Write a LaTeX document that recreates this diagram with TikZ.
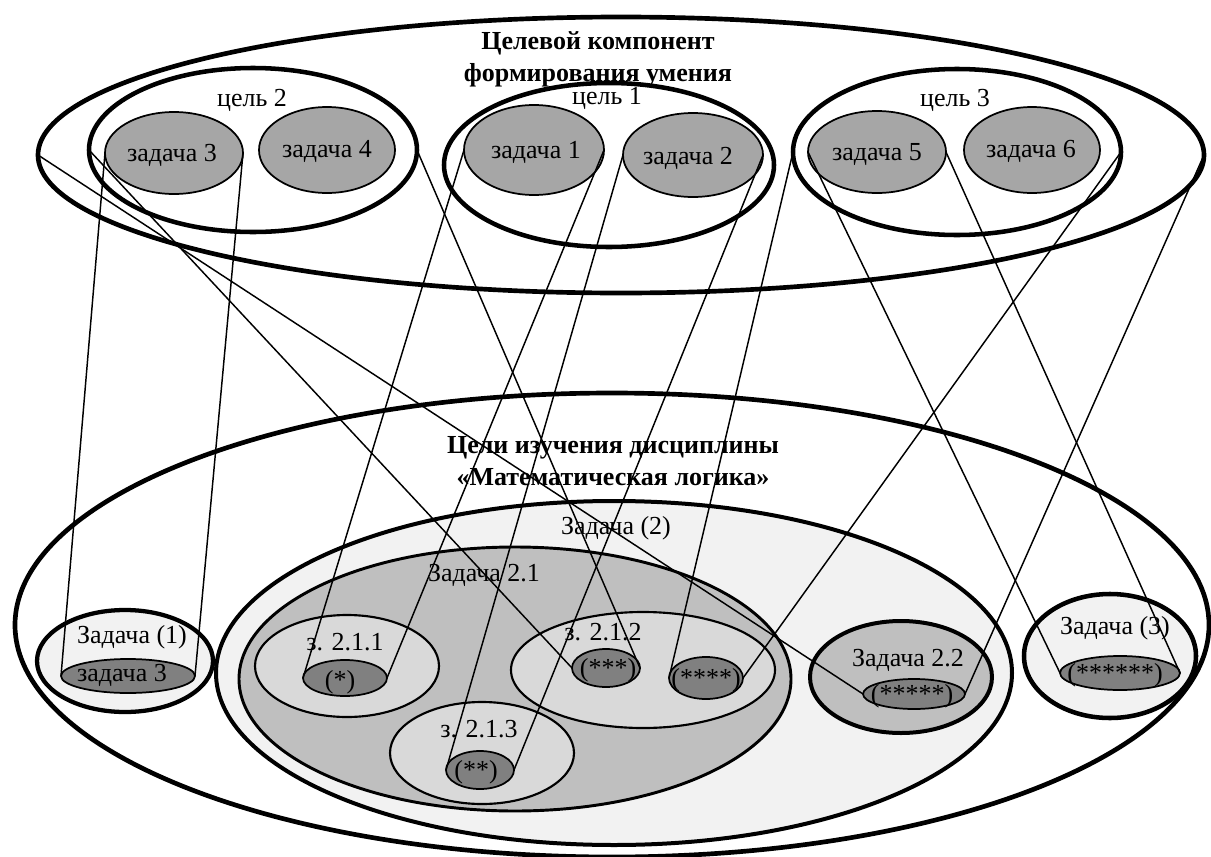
\documentclass[tikz,border=0pt]{standalone}
\usepackage{fontspec}
\setmainfont{Liberation Serif}
\usetikzlibrary{shapes.geometric}
\definecolor{gA}{HTML}{A6A6A6}
\definecolor{gD}{HTML}{808080}
\definecolor{gL}{HTML}{F2F2F2}
\definecolor{gM}{HTML}{BFBFBF}
\definecolor{gS}{HTML}{D9D9D9}
\begin{document}
\begin{tikzpicture}[x=0.75pt,y=-0.75pt,
  ell/.style={ellipse,inner sep=0pt,outer sep=0pt,draw=black},
  sz/.style n args={2}{minimum width=#1*1.5pt,minimum height=#2*1.5pt},
  big/.style={ell,line width=3.5pt,fill=white},
  goal/.style={ell,line width=3.4pt,fill=white},
  task/.style={ell,line width=1.3pt,fill=gA},
  dark/.style={ell,line width=1.3pt,fill=gD},
  sub/.style={ell,line width=1.6pt,fill=gS},
  lbl/.style={inner sep=0pt,font=\fontsize{19.5}{23}\selectfont},
  ttl/.style={inner sep=0pt,align=center,font=\fontsize{19.5}{24}\selectfont\bfseries},
  conn/.style={line width=1.1pt}]
\useasboundingbox (0,0) rectangle (1211,857);

% ---------- top block ----------
\node[big,sz={583}{138}] (top) at (621,155) {};
\node[ttl] (ttop) at (598,59) {Целевой компонент\\формирования умения};
\node[goal,sz={164}{82}] (c2) at (253,150) {};
\node[goal,sz={165}{82}] (c1) at (609,165) {};
\node[goal,sz={164}{83}] (c3) at (957,152) {};
\node[lbl] (lc2) at (252,100) {цель 2};
\node[lbl] (lc1) at (607,98) {цель 1};
\node[lbl] (lc3) at (955,100) {цель 3};
\node[task,sz={69}{41}] (z3) at (174,153) {};
\node[task,sz={68}{43}] (z4) at (327,150) {};
\node[task,sz={70}{45}] (z1) at (534,150) {};
\node[task,sz={70}{42}] (z2) at (693,155) {};
\node[task,sz={69}{41}] (z5) at (877,152) {};
\node[task,sz={68}{43}] (z6) at (1032,150) {};
\node[lbl] (lz3) at (172,155) {задача 3};
\node[lbl] (lz4) at (327,151) {задача 4};
\node[lbl] (lz1) at (536,152) {задача 1};
\node[lbl] (lz2) at (688,158) {задача 2};
\node[lbl] (lz5) at (877,154) {задача 5};
\node[lbl] (lz6) at (1031,151) {задача 6};

% ---------- bottom block ----------
\node[big,sz={597}{232}] (bot) at (612,625) {};
\node[ttl] (tbot) at (613,461) {Цели изучения дисциплины\\«Математическая логика»};
\node[ell,line width=3pt,fill=gL,sz={398}{172}] (t2) at (614,673) {};
\node[ell,line width=2.2pt,fill=gM,sz={276}{132}] (t21) at (515,679) {};
\node[sub,sz={92}{51}] (t211) at (347,666) {};
\node[sub,sz={132}{58}] (t212) at (643,670) {};
\node[sub,sz={92}{51}] (t213) at (482,753) {};
\node[dark,sz={42}{18}] (s1) at (345,678) {};
\node[dark,sz={34}{19}] (s3) at (606,668) {};
\node[dark,sz={37}{21}] (s4) at (706,678) {};
\node[dark,sz={34}{19}] (s2) at (480,770) {};
\node[ell,line width=3pt,fill=gM,sz={91}{56}] (t22) at (901,677) {};
\node[dark,sz={51}{15}] (s5) at (914,694) {};
\node[ell,line width=3.2pt,fill=gL,sz={88}{51}] (t1) at (125,661) {};
\node[dark,sz={67}{17}] (bz3) at (128,676) {};
\node[ell,line width=3.4pt,fill=gL,sz={86}{62}] (t3) at (1110,656) {};
\node[dark,sz={60}{17}] (s6) at (1120,673) {};

\node[lbl] (lt2) at (616,528) {Задача (2)};
\node[lbl] (lt21) at (484,575) {Задача 2.1};
\node[lbl] (lt211) at (345,642) {з. 2.1.1};
\node[lbl] (lt212) at (603,632) {з. 2.1.2};
\node[lbl] (lt213) at (479,729) {з. 2.1.3};
\node[lbl] (lt22) at (908,660) {Задача 2.2};
\node[lbl] (lt1) at (132,637) {Задача (1)};
\node[lbl] (lt3) at (1115,628) {Задача (3)};
\node[lbl] (lbz3) at (122,675) {задача 3};
\node[lbl] (ls1) at (340,682) {(*)};
\node[lbl] (ls3) at (608,670) {(***)};
\node[lbl] (ls4) at (706,680) {(****)};
\node[lbl] (ls2) at (476,772) {(**)};
\node[lbl] (ls5) at (912,696) {(*****)};
\node[lbl] (ls6) at (1115,675) {(******)};

% ---------- connectors ----------
\draw[conn] (z3.west) -- (bz3.west);
\draw[conn] (z3.east) -- (bz3.east);
\draw[conn] (c2.west) -- (s3.west);
\draw[conn] (c2.east) -- (s3.east);
\draw[conn] (top.west) -- (s5.west);
\draw[conn] (top.east) -- (s5.east);
\draw[conn] (z1.west) -- (s1.west);
\draw[conn] (z1.east) -- (s1.east);
\draw[conn] (z2.west) -- (s2.west);
\draw[conn] (z2.east) -- (s2.east);
\draw[conn] (c3.west) -- (s4.west);
\draw[conn] (c3.east) -- (s4.east);
\draw[conn] (z5.west) -- (s6.west);
\draw[conn] (z5.east) -- (s6.east);
\end{tikzpicture}
\end{document}
